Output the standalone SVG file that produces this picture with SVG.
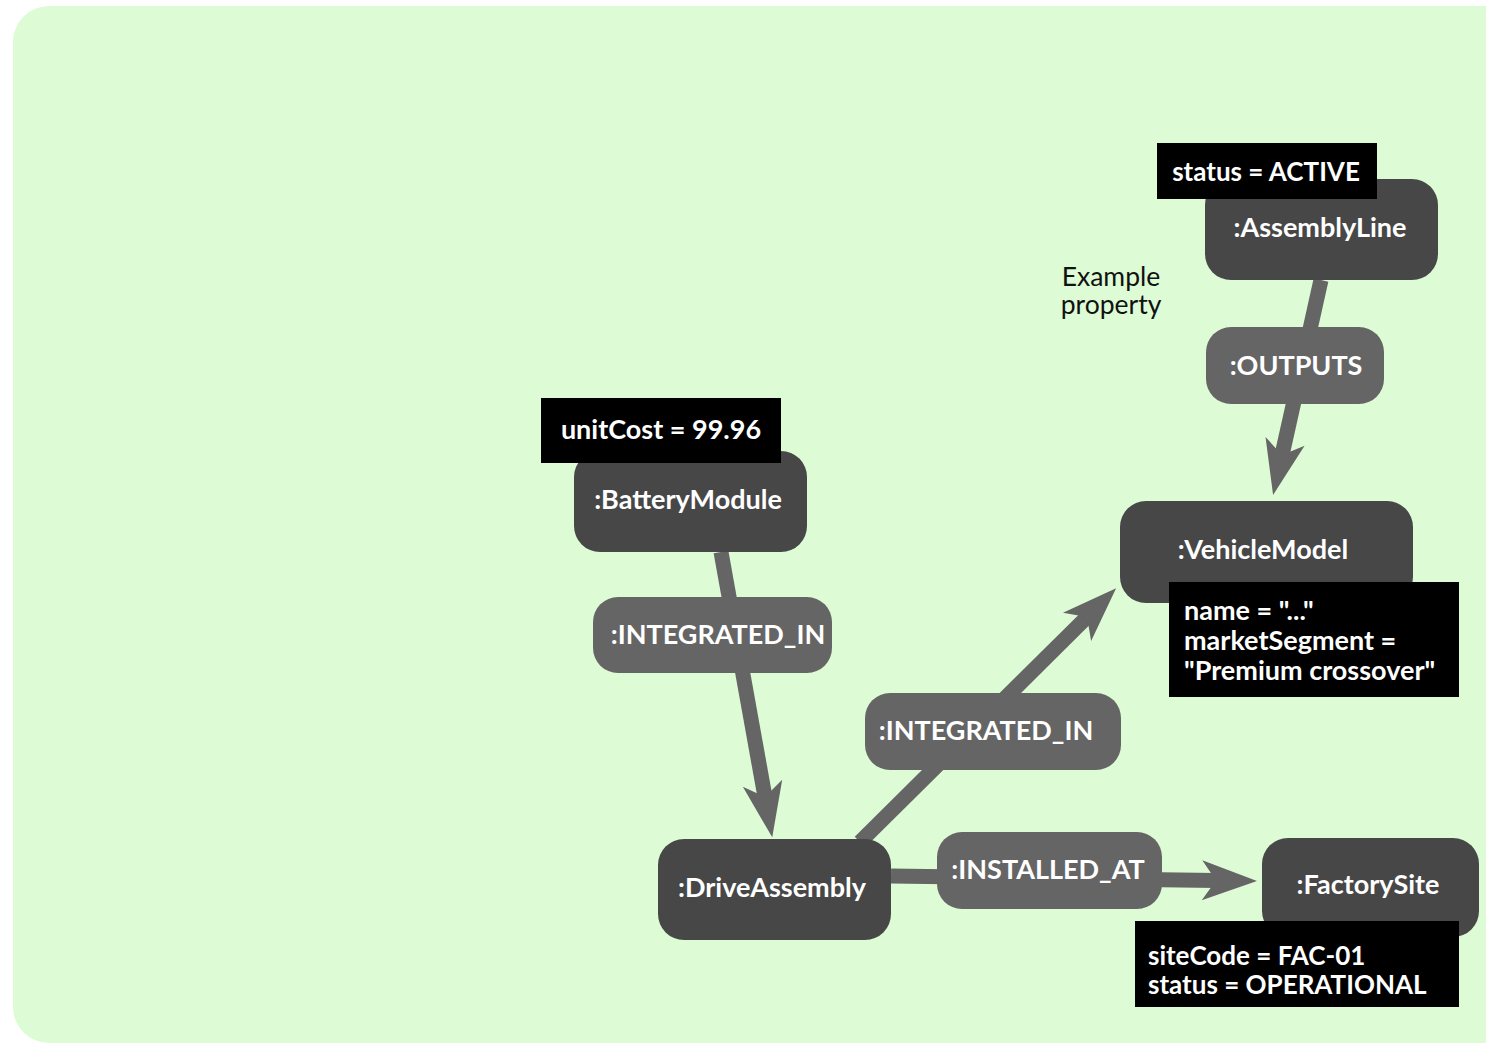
<svg xmlns="http://www.w3.org/2000/svg" width="1486" height="1044" viewBox="0 0 1486 1044">
  <style>
    .node { fill: #474747; }
    .rel { fill: #656565; }
    .props { fill: #000000; }
    .edge { stroke: #656565; stroke-width: 15; fill: none; marker-end: url(#head); }
    text { font-family: Lato, "Liberation Sans", sans-serif; font-weight: bold; font-size: 27px; fill: #ffffff; }
    .c { text-anchor: middle; }
    .sm { font-size: 26px; }
    .note { font-weight: normal; font-size: 26.5px; fill: #111111; text-anchor: middle; }
  </style>
  <defs>
    <!-- barbed arrowhead; origin sits at the end of the shaft -->
    <marker id="head" markerUnits="userSpaceOnUse" viewBox="-16 -22 60 44" refX="0" refY="0" markerWidth="60" markerHeight="44" orient="auto">
      <path d="M41,0 L-14,-20 L0,0 L-14,20 Z" fill="#656565"/>
    </marker>
  </defs>

  <!-- canvas -->
  <rect x="13" y="6" width="1510" height="1037" rx="36" ry="36" fill="#ddfcd6"/>

  <!-- connectors -->
  <g id="connectors">
    <line class="edge" x1="1321" y1="280" x2="1282" y2="455"/>
    <line class="edge" x1="721" y1="552" x2="765" y2="797"/>
    <line class="edge" x1="860" y1="842" x2="1087" y2="617"/>
    <line class="edge" x1="891" y1="876" x2="1216" y2="880.5"/>
  </g>

  <!-- relationship labels -->
  <g id="rel-outputs">
    <rect class="rel" x="1206" y="327" width="178" height="77" rx="25"/>
    <text class="c" x="1296" y="375">:OUTPUTS</text>
  </g>
  <g id="rel-integrated-in-1">
    <rect class="rel" x="593" y="597" width="239" height="76" rx="25"/>
    <text class="c" x="718" y="644" font-size="26.5">:INTEGRATED_IN</text>
  </g>
  <g id="rel-integrated-in-2">
    <rect class="rel" x="865" y="693" width="256" height="77" rx="25"/>
    <text class="c" x="986" y="740" font-size="26.5">:INTEGRATED_IN</text>
  </g>
  <g id="rel-installed-at">
    <rect class="rel" x="937" y="832" width="225" height="77" rx="25"/>
    <text class="c" x="1048" y="879" font-size="26.5">:INSTALLED_AT</text>
  </g>

  <!-- nodes -->
  <g id="assembly-line">
    <rect class="node" x="1205" y="179" width="233" height="101" rx="26"/>
    <text class="c" x="1320" y="237">:AssemblyLine</text>
    <rect class="props" x="1157" y="143" width="220" height="56"/>
    <text class="c sm" x="1266" y="181">status = ACTIVE</text>
  </g>

  <g id="battery-module">
    <rect class="node" x="574" y="451" width="233" height="101" rx="26"/>
    <text class="c" x="688" y="509">:BatteryModule</text>
    <rect class="props" x="541" y="398" width="240" height="65"/>
    <text class="c" x="661" y="439">unitCost = 99.96</text>
  </g>

  <g id="vehicle-model">
    <rect class="node" x="1120" y="501" width="293" height="102" rx="26"/>
    <text class="c" x="1263" y="559">:VehicleModel</text>
    <rect class="props" x="1169" y="582" width="290" height="115"/>
    <text x="1184" y="620">name = "..."</text>
    <text x="1184" y="650">marketSegment =</text>
    <text x="1184" y="680">"Premium crossover"</text>
  </g>

  <g id="drive-assembly">
    <rect class="node" x="658" y="839" width="233" height="101" rx="26"/>
    <text class="c" x="772" y="897">:DriveAssembly</text>
  </g>

  <g id="factory-site">
    <rect class="node" x="1262" y="838" width="217" height="99" rx="26"/>
    <text class="c" x="1368" y="894">:FactorySite</text>
    <rect class="props" x="1135" y="921" width="324" height="86"/>
    <text class="sm" x="1148" y="965">siteCode = FAC-01</text>
    <text class="sm" x="1148" y="994">status = OPERATIONAL</text>
  </g>

  <!-- legend note -->
  <g id="legend">
    <text class="note" x="1111" y="286">Example</text>
    <text class="note" x="1111" y="314">property</text>
  </g>
</svg>
